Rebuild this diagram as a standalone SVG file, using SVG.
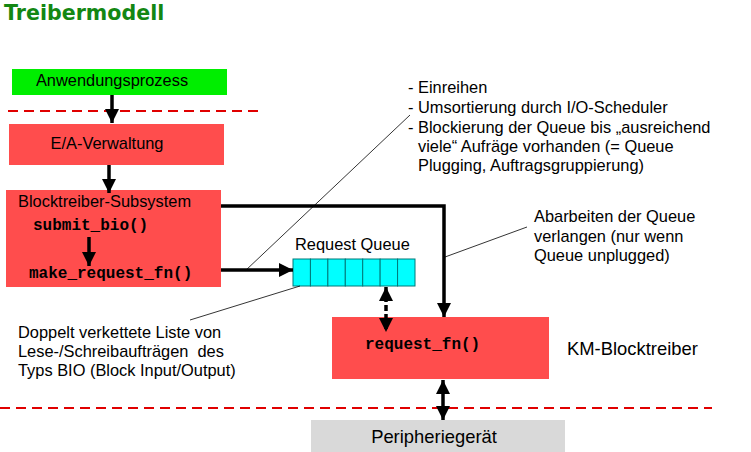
<svg xmlns="http://www.w3.org/2000/svg" width="751" height="452" viewBox="0 0 751 452">
<style>
.t{font-family:"Liberation Sans",Arial,sans-serif;font-size:16.4px;fill:#000;white-space:pre}
.b{font-family:"Liberation Sans",Arial,sans-serif;font-size:18.4px;fill:#000}
.c{font-family:"Liberation Mono","Courier New",monospace;font-size:16px;font-weight:bold;fill:#000}
.red{fill:#ff4d4d}
.dash{stroke:#e00000;stroke-width:2;stroke-dasharray:10 6;fill:none}
.thick{stroke:#000;stroke-width:3.5;fill:none}
.lead{stroke:#000;stroke-width:0.8;fill:none}
.cell{fill:#00ffff;stroke:#007878;stroke-width:1}
</style>
<defs>
<marker id="ah" markerWidth="4" markerHeight="4" refX="4" refY="2" orient="auto" markerUnits="strokeWidth">
<path d="M0,0 L4,2 L0,4 Z" fill="#000"/>
</marker>
<marker id="ahs" markerWidth="4" markerHeight="4" refX="0" refY="2" orient="auto" markerUnits="strokeWidth">
<path d="M4,0 L0,2 L4,4 Z" fill="#000"/>
</marker>
</defs>
<rect width="751" height="452" fill="#fff"/>
<text x="4" y="20" style="font-family:'DejaVu Sans',sans-serif;font-size:20.6px;font-weight:bold;fill:#138713">Treibermodell</text>
<line class="dash" x1="8" y1="111" x2="263" y2="111"/>
<line class="dash" x1="0" y1="408" x2="712" y2="408"/>
<g id="anwendungsprozess">
<rect x="12" y="69" width="215" height="26" fill="#00ee00"/>
<text class="t" x="112" y="86" text-anchor="middle">Anwendungsprozess</text>
</g>
<g id="ea-verwaltung">
<rect class="red" x="9" y="124" width="215" height="41"/>
<text class="t" x="107" y="149" text-anchor="middle">E/A-Verwaltung</text>
</g>
<g id="blocktreiber-subsystem">
<rect class="red" x="6" y="190" width="215" height="97"/>
<text class="t" x="18" y="207">Blocktreiber-Subsystem</text>
<text class="c" x="33" y="230">submit_bio()</text>
<text class="c" x="29" y="278">make_request_fn()</text>
</g>
<g id="request-queue">
<text class="t" x="295" y="250">Request Queue</text>
<rect class="cell" x="293" y="259" width="17.43" height="27"/>
<rect class="cell" x="310.43" y="259" width="17.43" height="27"/>
<rect class="cell" x="327.86" y="259" width="17.43" height="27"/>
<rect class="cell" x="345.29" y="259" width="17.43" height="27"/>
<rect class="cell" x="362.71" y="259" width="17.43" height="27"/>
<rect class="cell" x="380.14" y="259" width="17.43" height="27"/>
<rect class="cell" x="397.57" y="259" width="17.43" height="27"/>
</g>
<g id="request-fn">
<rect class="red" x="332" y="317" width="217" height="62"/>
<text class="c" x="365" y="349">request_fn()</text>
</g>
<g id="km-blocktreiber">
<text class="b" x="567" y="355">KM-Blocktreiber</text>
</g>
<g id="peripheriegeraet">
<rect x="311" y="420" width="254" height="32" fill="#d9d9d9"/>
<text class="b" x="434" y="443" text-anchor="middle">Peripheriegerät</text>
</g>
<g id="annotations">
<text class="t" x="408" y="93">- Einreihen</text>
<text class="t" x="408" y="113">- Umsortierung durch I/O-Scheduler</text>
<text class="t" x="408" y="133">- Blockierung der Queue bis „ausreichend</text>
<text class="t" x="418" y="152">viele“ Aufräge vorhanden (= Queue</text>
<text class="t" x="418" y="171">Plugging, Auftragsgruppierung)</text>
<text class="t" x="534" y="222">Abarbeiten der Queue</text>
<text class="t" x="534" y="242">verlangen (nur wenn</text>
<text class="t" x="534" y="261">Queue unplugged)</text>
<text class="t" x="18" y="338">Doppelt verkettete Liste von</text>
<text class="t" x="18" y="357">Lese-/Schreibaufträgen  des</text>
<text class="t" x="18" y="376">Typs BIO (Block Input/Output)</text>
</g>
<g id="connectors">
<line class="thick" x1="112" y1="95" x2="112" y2="123" marker-end="url(#ah)"/>
<line class="thick" x1="109" y1="165" x2="109" y2="193" marker-end="url(#ah)"/>
<line class="thick" x1="89" y1="237" x2="89" y2="266" marker-end="url(#ah)"/>
<line class="thick" x1="221" y1="270" x2="293" y2="270" marker-end="url(#ah)"/>
<polyline class="thick" points="221,206 444,206 444,317" marker-end="url(#ah)"/>
<line class="thick" x1="386" y1="287" x2="386" y2="332" stroke-dasharray="6 3" marker-start="url(#ahs)" marker-end="url(#ah)"/>
<line class="thick" x1="443" y1="380" x2="443" y2="420" stroke-width="2.5" marker-start="url(#ahs)" marker-end="url(#ah)"/>
<line class="lead" x1="410" y1="115" x2="245" y2="271"/>
<line class="lead" x1="445" y1="257" x2="527" y2="227"/>
<line class="lead" x1="190" y1="320" x2="300" y2="286"/>
</g>
</svg>
